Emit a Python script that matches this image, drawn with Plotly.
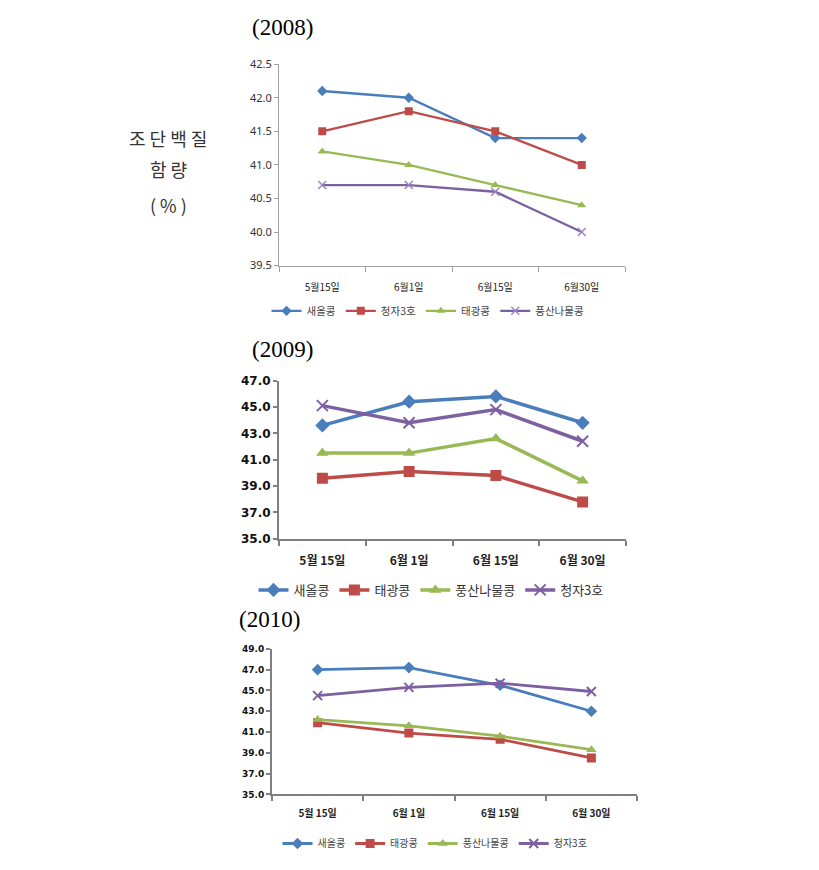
import plotly.graph_objects as go

W, H = 819, 870
OFF = 8  # page offset of the plot in the browser

dates_2008 = ["5월15일", "6월1일", "6월15일", "6월30일"]
dates_2009 = ["5월 15일", "6월 1일", "6월 15일", "6월 30일"]
dates_2010 = ["5월 15일", "6월 1일", "6월 15일", "6월 30일"]

names_2008 = ["새올콩", "청자3호", "태광콩", "풍산나물콩"]
vals_2008 = [
    [42.1, 42.0, 41.4, 41.4],
    [41.5, 41.8, 41.5, 41.0],
    [41.2, 41.0, 40.7, 40.4],
    [40.7, 40.7, 40.6, 40.0],
]

names_2009 = ["새올콩", "태광콩", "풍산나물콩", "청자3호"]
vals_2009 = [
    [43.6, 45.4, 45.8, 43.8],
    [39.6, 40.1, 39.8, 37.8],
    [41.5, 41.5, 42.6, 39.4],
    [45.1, 43.8, 44.8, 42.4],
]

names_2010 = ["새올콩", "태광콩", "풍산나물콩", "청자3호"]
vals_2010 = [
    [47.0, 47.2, 45.5, 43.0],
    [41.9, 40.9, 40.3, 38.5],
    [42.2, 41.6, 40.6, 39.3],
    [44.5, 45.3, 45.7, 44.9],
]

BLUE, RED, GREEN, PURPLE = "#4A7EBB", "#BE4B48", "#98B954", "#7D60A0"
style = {
    "새올콩": (BLUE, "diamond"),
    "청자3호": (RED, "square"),
    "태광콩": (GREEN, "triangle-up"),
    "풍산나물콩": (PURPLE, "x-thin"),
}
style_pos = [(BLUE, "diamond"), (RED, "square"), (GREEN, "triangle-up"), (PURPLE, "x-thin")]

fig = go.Figure()

def px_x(p):
    return (p - OFF) / W

def px_y(p):
    return 1 - (p - OFF) / H

panels = [
    # dates, names, vals, suffix, legend, x px, y px, range, line w, marker size, bold, tick font, tick family, xlabel font, standoff
    (dates_2008, names_2008, vals_2008, "", "legend", (279, 625), (57, 262), [39.5, 42.5], 2.3, 8, False, 11, "Noto Sans", 10, 12),
    (dates_2009, names_2009, vals_2009, "2", "legend2", (279, 626), (379, 540), [35, 47], 3.5, 11, True, 12, "DejaVu Sans", 12, 10),
    (dates_2010, names_2010, vals_2010, "3", "legend3", (272, 637), (652, 800), [35, 49], 2.8, 9, True, 9, "DejaVu Sans", 10, 9),
]

for pi, (dates, names, vals, sfx, leg, xd, yd, yr, lw, ms, bold, tf, tfam, xf, so) in enumerate(panels):
    for i, (nm, v) in enumerate(zip(names, vals)):
        if pi == 0:
            col, sym = style[nm]
        else:
            col, sym = style_pos[i]
        marker = dict(symbol=sym, size=ms, color=col)
        if sym == "x-thin":
            marker = dict(symbol="x-thin", size=ms, color=col,
                          line=dict(color="#9B87C0" if pi == 0 else col, width=1.5 if pi == 0 else 2))
        fig.add_trace(go.Scatter(
            x=dates, y=v, name=nm, mode="lines+markers",
            line=dict(color=col, width=lw), marker=marker,
            xaxis="x" + sfx, yaxis="y" + sfx, legend=leg,
        ))
    fw = "bold" if bold else "normal"
    axcol = "#A0A0A0" if pi == 0 else "#808080"
    alw = 1 if pi == 0 else 2
    fig.layout["xaxis" + sfx] = dict(
        domain=[px_x(xd[0]), px_x(xd[1])], anchor="y" + sfx,
        type="category", range=[-0.5, 3.5], tickson="boundaries",
        ticks="outside", ticklen=5, tickcolor=axcol, tickwidth=alw,
        ticklabelstandoff=so,
        showline=True, linecolor=axcol, linewidth=alw,
        showgrid=False, zeroline=False,
        tickfont=dict(family="Noto Sans CJK KR", size=xf, color="#222", weight=fw),
    )
    fig.layout["yaxis" + sfx] = dict(
        domain=[px_y(yd[1]), px_y(yd[0])], anchor="x" + sfx,
        range=yr, tick0=yr[0], dtick=0.5 if pi == 0 else 2.0, tickformat=".1f",
        ticks="outside", ticklen=4, tickcolor=axcol, tickwidth=alw,
        showline=True, linecolor=axcol, linewidth=alw,
        showgrid=False, zeroline=False,
        tickfont=dict(family=tfam, size=tf, color="#333" if pi == 0 else "#111", weight=fw),
    )

legend_common = dict(orientation="h", xanchor="center", yanchor="middle",
                     bgcolor="rgba(0,0,0,0)", itemwidth=30, tracegroupgap=0)
fig.layout.legend = dict(legend_common, x=px_x(428), y=px_y(308),
                         font=dict(family="Noto Sans CJK KR", size=10.5, color="#444"))
fig.layout.legend2 = dict(legend_common, x=px_x(431), y=px_y(592),
                          font=dict(family="Noto Sans CJK KR", size=13, color="#333"))
fig.layout.legend3 = dict(legend_common, x=px_x(435), y=px_y(850),
                          font=dict(family="Noto Sans CJK KR", size=10, color="#444"))

annots = [
    ("(2008)", 250, 20),
    ("(2009)", 250, 347),
    ("(2010)", 237, 622),
]
for txt, x, y in annots:
    fig.add_annotation(text=txt, x=px_x(x), y=px_y(y), xref="paper", yref="paper",
                       xanchor="left", yanchor="middle", showarrow=False,
                       font=dict(family="Liberation Serif, Times New Roman", size=23, color="#000"))

for txt, y in [("조 단 백 질", 132), ("함 량", 164), ("( % )", 200)]:
    fig.add_annotation(text=txt, x=px_x(168), y=px_y(y), xref="paper", yref="paper",
                       xanchor="center", yanchor="middle", showarrow=False,
                       font=dict(family="Noto Sans CJK KR", size=18, color="#333"))

fig.update_layout(width=W, height=H, margin=dict(l=0, r=0, t=0, b=0),
                  paper_bgcolor="white", plot_bgcolor="white", showlegend=True)

fig.write_html("out.html")
